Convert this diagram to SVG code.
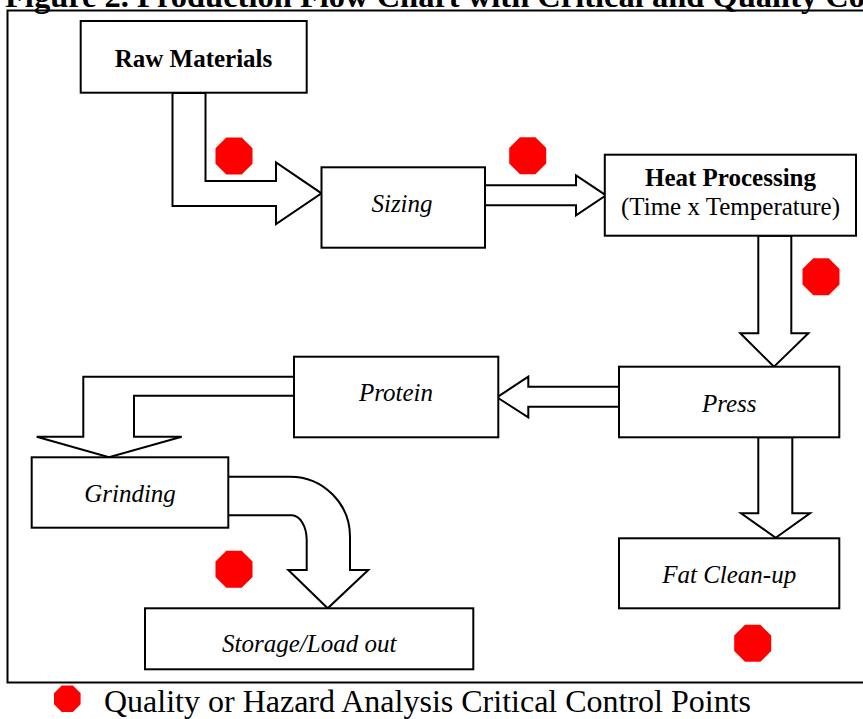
<svg xmlns="http://www.w3.org/2000/svg" xmlns:xlink="http://www.w3.org/1999/xlink" width="863" height="719" viewBox="0 0 863 719">
  <style>
    .frame { fill: none; stroke: #000; stroke-width: 2; }
    .box { fill: #fff; stroke: #000; stroke-width: 2; }
    .arrow { fill: #fff; stroke: #000; stroke-width: 2; stroke-linejoin: miter; }
    .ccp { fill: #ff0000; }
    .t { font-family: "Liberation Serif", "Times New Roman", serif; font-size: 25px; text-anchor: middle; fill: #000; }
    .b { font-weight: bold; }
    .i { font-style: italic; }
    .title { font-family: "Liberation Serif", "Times New Roman", serif; font-size: 32.5px; font-weight: bold; fill: #000; }
    .legend { font-family: "Liberation Serif", "Times New Roman", serif; font-size: 32px; fill: #000; }
  </style>
  <defs>
    <polygon id="oct" points="-7.7,-18.5 7.7,-18.5 18.5,-7.7 18.5,7.7 7.7,18.5 -7.7,18.5 -18.5,7.7 -18.5,-7.7"/>
  </defs>
  <rect width="863" height="719" fill="#fff"/>

  <text class="title" x="5" y="7">Figure 2. Production Flow Chart with Critical and Quality Co</text>
  <rect class="frame" x="7.5" y="10.5" width="870" height="672"/>

  <g id="connectors">
    <polygon class="arrow" points="172.5,93 205.5,93 205.5,181 276,181 276,162.5 321.5,193.3 276,224 276,206 172.5,206"/>
    <polygon class="arrow" points="484,185.3 576,185.3 576,175.3 606,195.3 576,215.3 576,205.3 484,205.3"/>
    <polygon class="arrow" points="758.3,235.7 791.3,235.7 791.3,333.3 808.4,333.3 774,366.7 740.3,333.3 758.3,333.3"/>
    <polygon class="arrow" points="620,386.7 528.3,386.7 528.3,376.7 497,397.3 528.3,417.3 528.3,406.7 620,406.7"/>
    <polygon class="arrow" points="758.3,437.3 792.3,437.3 792.3,513.3 810,513.3 775.7,537.7 741,513.3 758.3,513.3"/>
    <polygon class="arrow" points="296,376.7 83.3,376.7 83.3,436.7 36.7,436.7 109,457.3 181.7,436.7 134,436.7 134,395.7 296,395.7"/>
    <path class="arrow" d="M226.7,476.7 H290 A60,60 0 0 1 350,536.7 V570 H368.3 L327.7,608.3 L288.3,570 H306.7 V540 A15,25 0 0 0 291.7,515.3 H226.7 Z"/>
  </g>

  <g id="raw-materials">
    <rect class="box" x="80.7" y="21" width="226" height="71.7"/>
    <text class="t b" x="193.5" y="66.5">Raw Materials</text>
  </g>
  <g id="sizing">
    <rect class="box" x="321.5" y="167.3" width="163.5" height="80.4"/>
    <text class="t i" x="402" y="211.7">Sizing</text>
  </g>
  <g id="heat-processing">
    <rect class="box" x="604.8" y="154.7" width="251.2" height="81"/>
    <text class="t b" x="730.5" y="185.7">Heat Processing</text>
    <text class="t" x="730.5" y="215">(Time x Temperature)</text>
  </g>
  <g id="press">
    <rect class="box" x="619" y="366.7" width="220.3" height="70.6"/>
    <text class="t i" x="729.2" y="411.7">Press</text>
  </g>
  <g id="protein">
    <rect class="box" x="294" y="356.7" width="204.3" height="80.6"/>
    <text class="t i" x="396" y="400.7">Protein</text>
  </g>
  <g id="grinding">
    <rect class="box" x="31.7" y="457.3" width="196.6" height="70.4"/>
    <text class="t i" x="130" y="502.3">Grinding</text>
  </g>
  <g id="fat-clean-up">
    <rect class="box" x="619" y="538.3" width="220.3" height="70"/>
    <text class="t i" x="729.2" y="582.7">Fat Clean-up</text>
  </g>
  <g id="storage-load-out">
    <rect class="box" x="145" y="608.3" width="328.3" height="61"/>
    <text class="t i" x="309.2" y="651.7">Storage/Load out</text>
  </g>

  <g id="control-points">
    <use xlink:href="#oct" class="ccp" x="234" y="156"/>
    <use xlink:href="#oct" class="ccp" x="527.7" y="155.7"/>
    <use xlink:href="#oct" class="ccp" x="821" y="276.7"/>
    <use xlink:href="#oct" class="ccp" x="234" y="569.3"/>
    <use xlink:href="#oct" class="ccp" x="752.7" y="643.3"/>
  </g>

  <g id="legend">
    <use xlink:href="#oct" class="ccp" transform="translate(67.3,698.7) scale(0.72)"/>
    <text class="legend" x="104" y="711.5">Quality or Hazard Analysis Critical Control Points</text>
  </g>
</svg>
